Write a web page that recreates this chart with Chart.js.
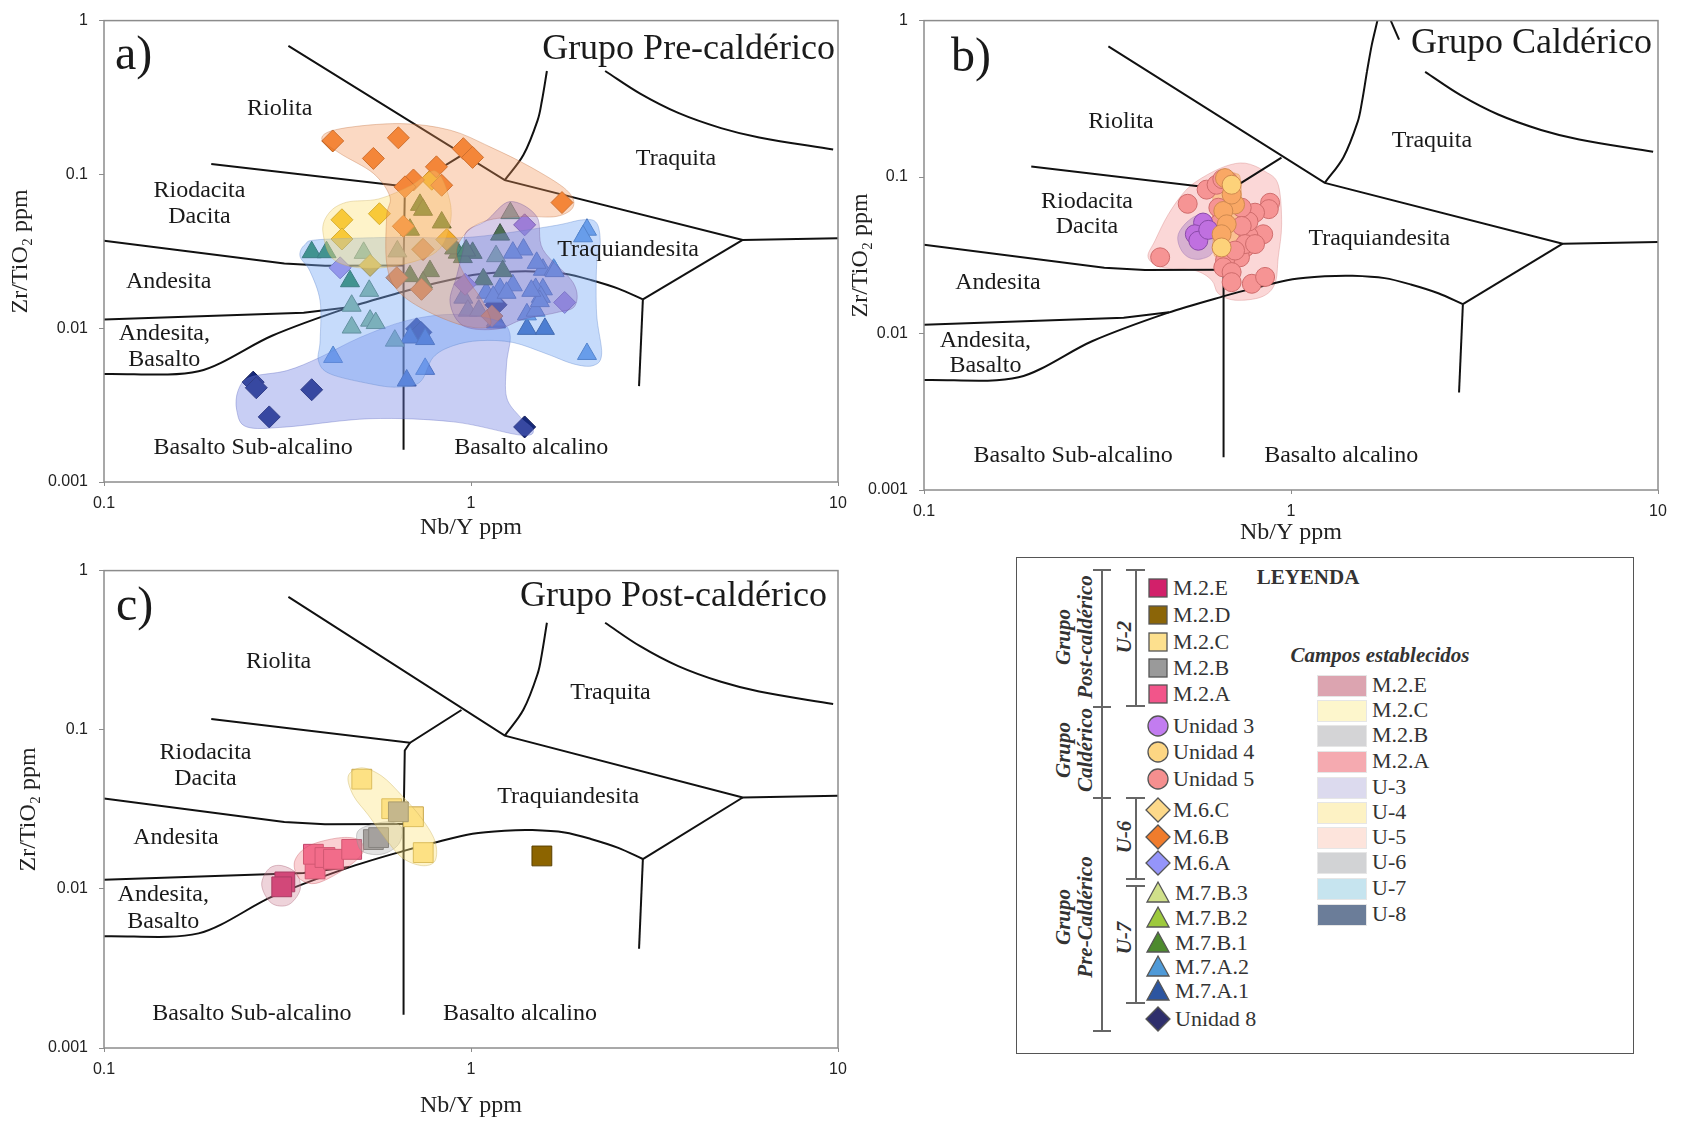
<!DOCTYPE html>
<html>
<head>
<meta charset="utf-8">
<title>Nb/Y vs Zr/TiO2</title>
<script src="https://cdn.jsdelivr.net/npm/chart.js@4.4.1/dist/chart.umd.min.js"></script>
<style>
  body { margin: 0; width: 1681px; height: 1123px; background: #fff; position: relative; overflow: hidden;
         font-family: "Liberation Serif", serif; color: #333; }
  canvas { position: absolute; }
  .abs { position: absolute; white-space: nowrap; }
  .lbl { font-size: 22px; height: 26px; line-height: 26px; }
  .rot { position: absolute; white-space: nowrap; text-align: center; font-style: italic; font-weight: bold;
         font-size: 21px; line-height: 22px; transform: translate(-50%, -50%) rotate(-90deg); }
  .bar { position: absolute; background: #666; }
</style>
</head>
<body>
<canvas id="chartA" width="860" height="550" style="left:0;top:0;width:860px;height:550px"></canvas>
<canvas id="chartB" width="841" height="550" style="left:840px;top:0;width:841px;height:550px"></canvas>
<canvas id="chartC" width="860" height="573" style="left:0;top:550px;width:860px;height:573px"></canvas>
<div id="legend"></div>
<script>
// Axis ticks
const xTicks = [0.1, 1, 10];
const yTicks = [0.001, 0.01, 0.1, 1];

// Field boundaries (Nb/Y, Zr/TiO2)
const lineRhyTrachy = [[0.318, 0.684], [1.236, 0.0918], [5.5, 0.0375], [10, 0.0385]];
const lineTrachyPhono = [[2.32, 0.47], [2.89, 0.335], [3.67, 0.251], [4.8, 0.2], [6.1, 0.174], [9.7, 0.145]];
const lineComendite = [[1.61, 0.47], [1.56, 0.3], [1.52, 0.226], [1.39, 0.134], [1.236, 0.0918]];
const lineComenditeTop = [[1.72, 1], [1.66, 0.7], [1.61, 0.47]];
const linePantStub = [[1.87, 1], [1.97, 0.755]];
const lineRhyodacite = [[0.196, 0.117], [0.682, 0.0828], [0.942, 0.133]];
const lineSubAlk = [[0.682, 0.0828], [0.66, 0.074], [0.655, 0.0254], [0.655, 0.00162]];
const lineAndesite = [[0.1, 0.037], [0.31, 0.0263], [0.4, 0.0255], [0.655, 0.0256]];
const lineAndBas = [[0.1, 0.0114], [0.35, 0.0126], [0.465, 0.0137]];
const lineBasalt = [[0.1, 0.00504], [0.181, 0.00525], [0.287, 0.00893], [0.461, 0.01355], [0.66, 0.0174],
  [0.794, 0.0195], [1.01, 0.0222], [1.236, 0.0232], [1.47, 0.0234], [1.8, 0.0226], [2.12, 0.0206], [2.52, 0.0181], [2.94, 0.0154]];
const lineTrachyand = [[2.94, 0.0154], [5.5, 0.0375]];
const lineAlkBas = [[2.94, 0.0154], [2.87, 0.0042]];

// Field names
const labelsA = [['Riolita', 0.301, 0.266], ['Traquita', 3.62, 0.126], ['Riodacita', 0.182, 0.0778], ['Dacita', 0.182, 0.053],
  ['Traquiandesita', 2.68, 0.0324], ['Andesita', 0.150, 0.020], ['Andesita,', 0.146, 0.0092], ['Basalto', 0.146, 0.00625],
  ['Basalto Sub-alcalino', 0.255, 0.00166], ['Basalto alcalino', 1.46, 0.00166]];
const labelsB = [['Riolita', 0.344, 0.226], ['Traquita', 2.42, 0.171], ['Riodacita', 0.278, 0.070], ['Dacita', 0.278, 0.0481],
  ['Traquiandesita', 1.74, 0.0406], ['Andesita', 0.159, 0.021], ['Andesita,', 0.147, 0.00905], ['Basalto', 0.147, 0.00622],
  ['Basalto Sub-alcalino', 0.255, 0.00165], ['Basalto alcalino', 1.37, 0.00165]];
const labelsC = [['Riolita', 0.299, 0.268], ['Traquita', 2.4, 0.17], ['Riodacita', 0.189, 0.0717], ['Dacita', 0.189, 0.049],
  ['Traquiandesita', 1.84, 0.038], ['Andesita', 0.157, 0.021], ['Andesita,', 0.145, 0.00914], ['Basalto', 0.145, 0.00626],
  ['Basalto Sub-alcalino', 0.253, 0.00165], ['Basalto alcalino', 1.36, 0.00165]];

// a) Grupo Pre-caldérico samples
const m6B = [[0.42, 0.165], [0.634, 0.173], [0.542, 0.127], [0.953, 0.147], [1.01, 0.129], [0.805, 0.112], [0.697, 0.092],
  [0.661, 0.083], [0.832, 0.085], [1.77, 0.0656], [0.741, 0.0325], [0.654, 0.046], [0.628, 0.0213], [0.733, 0.0179], [1.14, 0.012]];
const m6C = [[0.445, 0.0507], [0.563, 0.0555], [0.445, 0.038], [0.782, 0.093], [0.531, 0.0256], [0.738, 0.0326], [0.859, 0.0377]];
const m6A = [[1.40, 0.047], [0.44, 0.0247], [0.964, 0.0193], [1.80, 0.0147]];
const m7B1 = [[0.726, 0.0634], [0.74, 0.0589], [0.832, 0.0487], [0.682, 0.0437], [1.2, 0.0406], [1.01, 0.0309], [0.92, 0.031],
  [0.95, 0.029], [0.9, 0.033], [0.97, 0.032], [1.22, 0.0235], [0.773, 0.0235], [0.682, 0.0218], [0.74, 0.0198], [1.08, 0.0208]];
const m7B2 = [[0.368, 0.0312], [0.404, 0.0312], [0.468, 0.0202]];
const m7B3 = [[0.528, 0.0175], [0.473, 0.014], [0.473, 0.0101], [0.531, 0.0112], [0.55, 0.0108], [0.51, 0.0309], [0.62, 0.0083],
  [1.28, 0.056], [0.63, 0.0316], [1.17, 0.0294]];
const m7A2 = [[2.07, 0.0437], [1.57, 0.024], [1.68, 0.024], [1.57, 0.0179], [1.5, 0.018], [1.42, 0.0123], [1.55, 0.016], [1.5, 0.013],
  [2.02, 0.0396], [1.69, 0.0235], [1.54, 0.015], [1.46, 0.0175], [2.07, 0.0068], [0.421, 0.0065], [0.75, 0.00544], [1.39, 0.0325],
  [1.3, 0.031], [1.51, 0.0266], [0.953, 0.0158], [0.98, 0.013], [1.1, 0.017], [1.2, 0.018], [1.3, 0.019], [1.15, 0.016],
  [1.25, 0.017], [1.05, 0.013]];
const m7A1 = [[0.668, 0.00457], [0.682, 0.0087], [0.75, 0.0085], [1.17, 0.0109], [1.42, 0.0099], [1.59, 0.0099], [1.17, 0.0112]];
const unidad8 = [[0.255, 0.00446], [0.26, 0.0041], [0.368, 0.00398], [0.282, 0.00265], [1.40, 0.00228], [0.711, 0.0099],
  [0.73, 0.0094], [1.17, 0.0142]];

// b) Grupo Caldérico samples
const unidad5 = [[0.44, 0.0307], [0.523, 0.0675], [0.589, 0.0831], [0.627, 0.0893], [0.675, 0.094], [0.877, 0.0685], [0.87, 0.0624],
  [0.798, 0.0592], [0.84, 0.0431], [0.766, 0.0421], [0.75, 0.0355], [0.726, 0.0307], [0.661, 0.0293], [0.654, 0.0265],
  [0.689, 0.0247], [0.689, 0.0213], [0.782, 0.0208], [0.85, 0.023], [0.766, 0.052], [0.734, 0.0637], [0.634, 0.0637],
  [0.734, 0.0487], [0.75, 0.0373], [0.704, 0.0339], [0.798, 0.0373], [0.634, 0.0499], [0.65, 0.097]];
const unidad4 = [[0.661, 0.0985], [0.704, 0.0668], [0.654, 0.0607], [0.668, 0.0499], [0.647, 0.0431], [0.689, 0.0773],
  [0.689, 0.0893], [0.647, 0.0355]];
const unidad3 = [[0.576, 0.0512], [0.547, 0.0431], [0.559, 0.0392], [0.595, 0.046]];

// c) Grupo Post-caldérico samples
const m2E = [[0.311, 0.01106], [0.305, 0.0103]];
const m2D = [[1.56, 0.0161]];
const m2C = [[0.504, 0.0489], [0.608, 0.0319], [0.697, 0.0284], [0.741, 0.0169]];
const m2B = [[0.542, 0.0204], [0.56, 0.021], [0.634, 0.0305]];
const m2A = [[0.376, 0.01334], [0.372, 0.0165], [0.40, 0.01574], [0.422, 0.01535], [0.473, 0.0177]];

// Established fields (outlines)
const hullU8 = [[0.232, 0.00394], [0.25, 0.0048], [0.315, 0.0053], [0.388, 0.00647], [0.498, 0.0087], [0.668, 0.0112],
  [0.895, 0.0123], [1.175, 0.0112], [1.277, 0.00916], [1.25, 0.00586], [1.25, 0.00356], [1.36, 0.00265], [1.479, 0.00217],
  [1.36, 0.00202], [0.895, 0.00246], [0.531, 0.00258], [0.315, 0.00228], [0.245, 0.00228], [0.23, 0.00292]];
const hullU7 = [[0.353, 0.035], [0.388, 0.0377], [0.64, 0.039], [0.99, 0.039], [1.64, 0.0459], [2.02, 0.0507], [2.2, 0.0482],
  [2.25, 0.0358], [2.2, 0.026], [2.2, 0.0123], [2.27, 0.0068], [2.15, 0.00571], [1.90, 0.00586], [1.61, 0.0068], [1.30, 0.00808],
  [1.058, 0.0083], [0.895, 0.0077], [0.789, 0.00647], [0.726, 0.00446], [0.627, 0.00414], [0.531, 0.00435], [0.413, 0.00505],
  [0.384, 0.00615], [0.388, 0.0083], [0.388, 0.01503], [0.364, 0.0235], [0.342, 0.0294]];
const hullM6C = [[0.41, 0.056], [0.458, 0.0659], [0.561, 0.0693], [0.689, 0.085], [0.80, 0.105], [0.873, 0.0693], [0.873, 0.0458],
  [0.788, 0.0303], [0.561, 0.0246], [0.428, 0.0273], [0.395, 0.042]];
const hullM6B = [[0.392, 0.171], [0.44, 0.198], [0.64, 0.214], [0.877, 0.194], [1.127, 0.151], [1.45, 0.112], [1.82, 0.0793],
  [1.90, 0.0618], [1.71, 0.0533], [1.39, 0.0533], [1.127, 0.0507], [0.99, 0.0437], [0.914, 0.0325], [0.953, 0.0229],
  [1.08, 0.0147], [1.127, 0.0104], [0.953, 0.0104], [0.741, 0.0133], [0.627, 0.0179], [0.589, 0.0266], [0.589, 0.0533],
  [0.601, 0.0718], [0.542, 0.1015], [0.44, 0.1368]];
const hullM6A = [[0.973, 0.0426], [1.1, 0.05], [1.277, 0.0666], [1.51, 0.0533], [1.57, 0.0325], [1.90, 0.0197], [1.92, 0.014],
  [1.71, 0.01264], [1.39, 0.01145], [1.175, 0.00987], [0.953, 0.01036], [0.877, 0.01466], [0.914, 0.0218], [0.953, 0.0325]];
const hullU5 = [[0.408, 0.0307], [0.426, 0.0392], [0.463, 0.0577], [0.514, 0.0812], [0.571, 0.0986], [0.661, 0.117],
  [0.75, 0.1227], [0.85, 0.1086], [0.923, 0.0893], [0.943, 0.0499], [0.923, 0.0307], [0.904, 0.0208], [0.832, 0.01715],
  [0.704, 0.01633], [0.634, 0.018], [0.608, 0.0219], [0.547, 0.0253], [0.445, 0.0265]];
const hullU3 = [[0.493, 0.0431], [0.525, 0.0525], [0.571, 0.0577], [0.614, 0.0512], [0.614, 0.0339], [0.571, 0.03],
  [0.525, 0.0307], [0.498, 0.0355]];
const hullU4 = [[0.634, 0.106], [0.704, 0.106], [0.731, 0.0893], [0.731, 0.0339], [0.704, 0.0307], [0.634, 0.0307],
  [0.614, 0.0355], [0.614, 0.0893]];
const hullM2E = [[0.269, 0.01054], [0.281, 0.01334], [0.305, 0.014], [0.335, 0.01245], [0.342, 0.00982], [0.318, 0.00794],
  [0.286, 0.00813]];
const hullM2A = [[0.331, 0.015], [0.361, 0.0186], [0.435, 0.0209], [0.493, 0.0204], [0.509, 0.0173], [0.473, 0.01432],
  [0.408, 0.01159], [0.368, 0.01078], [0.338, 0.01186]];
const hullM2B = [[0.488, 0.0219], [0.514, 0.0246], [0.595, 0.0264], [0.648, 0.0241], [0.634, 0.019], [0.571, 0.0165],
  [0.504, 0.0173]];
const hullM2C = [[0.463, 0.0512], [0.504, 0.0576], [0.571, 0.0512], [0.648, 0.0386], [0.734, 0.0277], [0.798, 0.0199],
  [0.798, 0.015], [0.734, 0.014], [0.648, 0.01574], [0.583, 0.0209], [0.525, 0.0291], [0.478, 0.0386]];

// Legend entries
const legendNames = ['M.2.E', 'M.2.D', 'M.2.C', 'M.2.B', 'M.2.A', 'Unidad 3', 'Unidad 4', 'Unidad 5', 'M.6.C', 'M.6.B', 'M.6.A',
  'M.7.B.3', 'M.7.B.2', 'M.7.B.1', 'M.7.A.2', 'M.7.A.1', 'Unidad 8'];
const legendShapes = ['square', 'square', 'square', 'square', 'square', 'circle', 'circle', 'circle', 'diamond', 'diamond', 'diamond',
  'triangle', 'triangle', 'triangle', 'triangle', 'triangle', 'diamond'];
const legendColors = ['#d2206a', '#8b6508', '#fde08e', '#9a9a9a', '#f2558a', '#c27cf0', '#fdd683', '#f58f8f', '#fdd98a', '#f07c2c',
  '#9595fa', '#d0e08a', '#9dc93c', '#4d8a2e', '#4f9ad8', '#2c55a0', '#2f2f6c'];
const fieldNames = ['M.2.E', 'M.2.C', 'M.2.B', 'M.2.A', 'U-3', 'U-4', 'U-5', 'U-6', 'U-7', 'U-8'];
const fieldColors = ['#dca4b0', '#fdf6cc', '#d4d4d6', '#f5aab0', '#dcdaee', '#fdf2c4', '#fde4dc', '#d2d3d5', '#c6e4ef', '#6b7d99'];

const tickFont = {family: '"Liberation Sans", Arial, sans-serif', size: 16};
const titleFont = {family: '"Liberation Serif", serif', size: 24};

function toXY(arr) {
  return arr.map(([x, y]) => ({x, y}));
}

// closed smooth curve through all vertices
function smoothClosed(ctx, pts) {
  const n = pts.length;
  ctx.moveTo(pts[0].x, pts[0].y);
  for (let i = 0; i < n; i++) {
    const p0 = pts[(i - 1 + n) % n], p1 = pts[i], p2 = pts[(i + 1) % n], p3 = pts[(i + 2) % n];
    ctx.bezierCurveTo(p1.x + (p2.x - p0.x) / 6, p1.y + (p2.y - p0.y) / 6,
      p2.x - (p3.x - p1.x) / 6, p2.y - (p3.y - p1.y) / 6, p2.x, p2.y);
  }
  ctx.closePath();
}

function makeDecor(cfg) {
  function drawHulls(chart) {
    const {ctx, chartArea: a, scales: {x, y}} = chart;
    ctx.save();
    ctx.beginPath();
    ctx.rect(a.left, a.top, a.right - a.left, a.bottom - a.top);
    ctx.clip();
    cfg.hulls.forEach(h => {
      const pts = h.data.map(([vx, vy]) => ({x: x.getPixelForValue(vx), y: y.getPixelForValue(vy)}));
      ctx.beginPath();
      smoothClosed(ctx, pts);
      ctx.fillStyle = h.fill;
      ctx.fill();
      ctx.strokeStyle = h.stroke;
      ctx.lineWidth = 1;
      ctx.stroke();
    });
    ctx.restore();
  }
  return {
    id: 'decor',
    beforeDatasetsDraw(chart) {
      if (!cfg.fillsOnTop) drawHulls(chart);
    },
    afterDatasetsDraw(chart) {
      if (cfg.fillsOnTop) drawHulls(chart);
      const {ctx, chartArea: a, scales: {x, y}} = chart;
      ctx.save();
      ctx.fillStyle = '#1a1a1a';
      ctx.font = '24px "Liberation Serif"';
      ctx.textAlign = 'center';
      ctx.textBaseline = 'middle';
      cfg.labels.forEach(([t, vx, vy]) => ctx.fillText(t, x.getPixelForValue(vx), y.getPixelForValue(vy)));
      // panel letter and group name
      ctx.textBaseline = 'alphabetic';
      ctx.textAlign = 'left';
      ctx.font = '48px "Liberation Serif"';
      ctx.fillText(cfg.letter, a.left + cfg.letterPos[0], a.top + cfg.letterPos[1]);
      ctx.textAlign = 'right';
      ctx.font = '36px "Liberation Serif"';
      ctx.fillText(cfg.group, a.right - cfg.groupPos[0], a.top + cfg.groupPos[1]);
      // plot frame
      ctx.strokeStyle = '#8c8c8c';
      ctx.lineWidth = 1.5;
      ctx.strokeRect(a.left, a.top, a.right - a.left, a.bottom - a.top);
      ctx.restore();
    }
  };
}

function buildPanel(id, cfg) {
  const datasets = [];
  cfg.lines.forEach(l => datasets.push({
    data: toXY(l.data), showLine: true, borderColor: '#111', borderWidth: 2, pointRadius: 0,
    tension: l.tension || 0, fill: false, order: 100
  }));
  cfg.series.forEach((s, i) => datasets.push({
    label: s.name, data: toXY(s.data), pointStyle: s.style, pointRadius: s.r,
    backgroundColor: s.fill, borderColor: s.border, borderWidth: 1, order: cfg.series.length - i
  }));
  return new Chart(document.getElementById(id), {
    type: 'scatter',
    data: {datasets},
    options: {
      responsive: false, animation: false, events: [],
      layout: {padding: cfg.padding},
      plugins: {legend: {display: false}, tooltip: {enabled: false}},
      scales: {
        x: {
          type: 'logarithmic', min: 0.1, max: 10,
          afterBuildTicks: s => { s.ticks = xTicks.map(v => ({value: v})); },
          afterFit: s => { s.height = cfg.xAxisH; },
          ticks: {callback: v => String(v), font: tickFont, color: '#222', padding: 8, maxRotation: 0, autoSkip: false},
          grid: {drawOnChartArea: false, drawTicks: true, tickLength: 4, color: '#8c8c8c'},
          border: {display: false},
          title: {display: true, text: 'Nb/Y ppm', font: titleFont, color: '#222', padding: {top: 0, bottom: cfg.xTitlePad}}
        },
        y: {
          type: 'logarithmic', min: 0.001, max: 1,
          afterBuildTicks: s => { s.ticks = yTicks.map(v => ({value: v})); },
          afterFit: s => { s.width = cfg.yAxisW; },
          ticks: {callback: v => String(v), font: tickFont, color: '#222', padding: 11, autoSkip: false},
          grid: {drawOnChartArea: false, drawTicks: true, tickLength: 5, color: '#8c8c8c'},
          border: {display: false},
          title: {display: true, text: 'Zr/TiO₂ ppm', font: titleFont, color: '#222', padding: {top: cfg.yTitlePad, bottom: 0}}
        }
      }
    },
    plugins: [makeDecor(cfg)]
  });
}

const baseLines = [
  {data: lineRhyTrachy}, {data: lineTrachyPhono, tension: 0.35}, {data: lineComendite, tension: 0.35},
  {data: lineRhyodacite}, {data: lineSubAlk}, {data: lineAndesite}, {data: lineAndBas},
  {data: lineBasalt, tension: 0.3}, {data: lineTrachyand}, {data: lineAlkBas}
];

buildPanel('chartA', {
  padding: {top: 18, right: 22, left: 0, bottom: 0}, xAxisH: 68, yAxisW: 104, xTitlePad: 7.6, yTitlePad: 6.6,
  lines: baseLines, labels: labelsA, fillsOnTop: true,
  letter: 'a)', letterPos: [11, 48], group: 'Grupo Pre-caldérico', groupPos: [3, 38],
  series: [
    {name: 'Unidad 8', data: unidad8, style: 'rectRot', r: 11, fill: '#15287a', border: '#0a1450'},
    {name: 'M.7.A.1', data: m7A1, style: 'triangle', r: 11, fill: '#2f5fb8', border: '#1d3f80'},
    {name: 'M.7.A.2', data: m7A2, style: 'triangle', r: 11, fill: '#5e95e2', border: '#3a6ab0'},
    {name: 'M.7.B.3', data: m7B3, style: 'triangle', r: 11, fill: '#7fb592', border: '#557f64'},
    {name: 'M.7.B.2', data: m7B2, style: 'triangle', r: 11, fill: '#1a8447', border: '#125c31'},
    {name: 'M.7.B.1', data: m7B1, style: 'triangle', r: 11, fill: '#32741f', border: '#224f15'},
    {name: 'M.6.A', data: m6A, style: 'rectRot', r: 11, fill: '#a98ae6', border: '#7a60b0'},
    {name: 'M.6.C', data: m6C, style: 'rectRot', r: 11, fill: '#f6ba10', border: '#b88a00'},
    {name: 'M.6.B', data: m6B, style: 'rectRot', r: 11, fill: '#f47e28', border: '#b85a18'}
  ],
  hulls: [
    {data: hullU8, fill: 'rgba(110,125,225,0.38)', stroke: 'rgba(90,100,190,0.35)'},
    {data: hullU7, fill: 'rgba(120,170,245,0.42)', stroke: 'rgba(90,130,200,0.35)'},
    {data: hullM6C, fill: 'rgba(253,225,120,0.40)', stroke: 'rgba(200,170,80,0.35)'},
    {data: hullM6B, fill: 'rgba(245,150,90,0.36)', stroke: 'rgba(190,110,60,0.35)'},
    {data: hullM6A, fill: 'rgba(135,100,185,0.33)', stroke: 'rgba(110,80,150,0.35)'}
  ]
});

buildPanel('chartB', {
  padding: {top: 16, right: 23, left: 0, bottom: 0}, xAxisH: 60, yAxisW: 84, xTitlePad: 2.6, yTitlePad: 6.6,
  lines: baseLines.concat([{data: lineComenditeTop, tension: 0.3}, {data: linePantStub}]), labels: labelsB, fillsOnTop: false,
  letter: 'b)', letterPos: [27, 50], group: 'Grupo Caldérico', groupPos: [6, 32],
  series: [
    {name: 'Unidad 5', data: unidad5, style: 'circle', r: 9.5, fill: '#f69494', border: '#cf6c6c'},
    {name: 'Unidad 3', data: unidad3, style: 'circle', r: 9.5, fill: '#c070e0', border: '#8a4aa8'},
    {name: 'Unidad 4', data: unidad4, style: 'circle', r: 9.5,
      fill: ['#f9a865', '#f9a865', '#f9a865', '#f9a865', '#f9a865', '#f9a865', '#fdd27a', '#fdd27a'], border: '#d08a50'}
  ],
  hulls: [
    {data: hullU5, fill: 'rgba(245,150,150,0.38)', stroke: 'rgba(210,120,120,0.35)'},
    {data: hullU3, fill: 'rgba(170,130,200,0.45)', stroke: 'rgba(140,100,170,0.35)'},
    {data: hullU4, fill: 'rgba(250,175,90,0.55)', stroke: 'rgba(210,140,70,0.35)'}
  ]
});

buildPanel('chartC', {
  padding: {top: 10, right: 22, left: 0, bottom: 0}, xAxisH: 75, yAxisW: 104, xTitlePad: 2.6, yTitlePad: 14.6,
  lines: baseLines, labels: labelsC, fillsOnTop: true,
  letter: 'c)', letterPos: [12, 49], group: 'Grupo Post-caldérico', groupPos: [11, 35],
  series: [
    {name: 'M.2.D', data: m2D, style: 'rect', r: 14, fill: '#8c6400', border: '#5a4000'},
    {name: 'M.2.C', data: m2C, style: 'rect', r: 14, fill: '#fde08c', border: '#c9a84e'},
    {name: 'M.2.B', data: m2B, style: 'rect', r: 14, fill: '#a39d98', border: '#76706a'},
    {name: 'M.2.A', data: m2A, style: 'rect', r: 14, fill: '#f36690', border: '#c0466a'},
    {name: 'M.2.E', data: m2E, style: 'rect', r: 14, fill: '#d42a6a', border: '#98184a'}
  ],
  hulls: [
    {data: hullM2E, fill: 'rgba(205,130,150,0.35)', stroke: 'rgba(170,100,120,0.4)'},
    {data: hullM2A, fill: 'rgba(240,120,130,0.35)', stroke: 'rgba(200,90,100,0.4)'},
    {data: hullM2B, fill: 'rgba(170,170,170,0.35)', stroke: 'rgba(140,140,140,0.4)'},
    {data: hullM2C, fill: 'rgba(252,225,120,0.38)', stroke: 'rgba(200,175,90,0.4)'}
  ]
});

// Legend (HTML)
const legendRowY = [588, 615, 642, 668, 694, 726, 752, 779, 810, 837, 863, 893, 918, 943, 967, 991, 1019];
const fieldRowY = [685, 710, 735, 761, 787, 812, 837, 862, 888, 914];

function markerSvg(shape, color, cx, cy) {
  let inner;
  if (shape === 'square') inner = `<rect x="4" y="4" width="18" height="18" fill="${color}" stroke="#555" stroke-width="1.3"/>`;
  else if (shape === 'circle') inner = `<circle cx="13" cy="13" r="10" fill="${color}" stroke="#555" stroke-width="1.3"/>`;
  else if (shape === 'diamond') inner = `<polygon points="13,1 25,13 13,25 1,13" fill="${color}" stroke="#555" stroke-width="1.3"/>`;
  else inner = `<polygon points="13,2 24,22 2,22" fill="${color}" stroke="#555" stroke-width="1.3"/>`;
  return `<svg width="26" height="26" style="position:absolute;left:${cx - 13}px;top:${cy - 13}px">${inner}</svg>`;
}

let html = '<div style="position:absolute;left:1016px;top:557px;width:616px;height:495px;border:1px solid #555"></div>';
html += '<div class="abs" style="left:1308px;top:566px;transform:translateX(-50%);font-size:21px;font-weight:bold;line-height:22px;color:#333">LEYENDA</div>';
legendNames.forEach((name, i) => {
  const y = legendRowY[i];
  html += markerSvg(legendShapes[i], legendColors[i], 1158, y);
  html += `<div class="abs lbl" style="left:${legendShapes[i] === 'triangle' || name === 'Unidad 8' ? 1175 : 1173}px;top:${y - 13}px">${name}</div>`;
});
html += '<div class="abs" style="left:1380px;top:643px;transform:translateX(-50%);font-size:21px;font-weight:bold;font-style:italic;line-height:24px;color:#333">Campos establecidos</div>';
fieldNames.forEach((name, i) => {
  const y = fieldRowY[i];
  html += `<div style="position:absolute;left:1317px;top:${y - 10}px;width:48px;height:20px;background:${fieldColors[i]};border:1px solid #e6e6e6"></div>`;
  html += `<div class="abs lbl" style="left:1372px;top:${y - 13}px">${name}</div>`;
});
// brackets
html += '<div class="bar" style="left:1101px;top:569px;width:1.5px;height:461px"></div>';
[569, 706, 797, 1030].forEach(y => { html += `<div class="bar" style="left:1093px;top:${y}px;width:18px;height:1.5px"></div>`; });
[[569, 705], [797, 878], [885, 1002]].forEach(([a, b]) => {
  html += `<div class="bar" style="left:1135px;top:${a}px;width:1.5px;height:${b - a}px"></div>`;
  html += `<div class="bar" style="left:1126px;top:${a}px;width:19px;height:1.5px"></div>`;
  html += `<div class="bar" style="left:1126px;top:${b}px;width:19px;height:1.5px"></div>`;
});
html += '<div class="rot" style="left:1074px;top:637px">Grupo<br>Post-caldérico</div>';
html += '<div class="rot" style="left:1074px;top:750px">Grupo<br>Caldérico</div>';
html += '<div class="rot" style="left:1074px;top:917px">Grupo<br>Pre-Caldérico</div>';
html += '<div class="rot" style="left:1124px;top:637px">U-2</div>';
html += '<div class="rot" style="left:1124px;top:837px">U-6</div>';
html += '<div class="rot" style="left:1124px;top:938px">U-7</div>';
document.getElementById('legend').innerHTML = html;
</script>
</body>
</html>
